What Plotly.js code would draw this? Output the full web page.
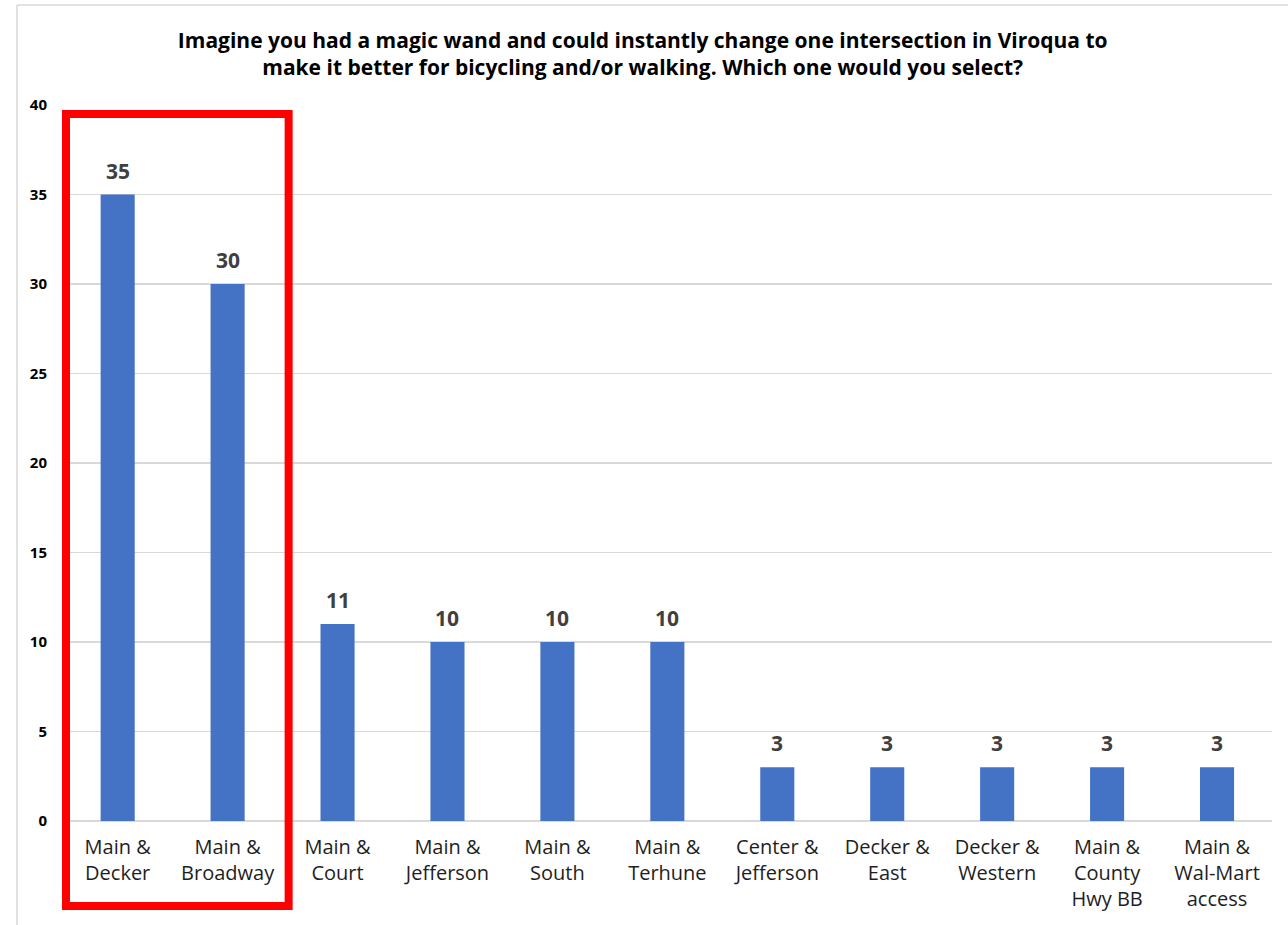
<!DOCTYPE html>
<html>
<head>
<meta charset="utf-8">
<script src="https://cdn.plot.ly/plotly-3.0.1.min.js"></script>
<style>
  html, body { margin: 0; padding: 0; background: #ffffff; }
  #chart { width: 1288px; height: 925px; }
</style>
</head>
<body>
<div id="chart"></div>
<script>
// Survey responses: preferred intersection to improve for bicycling/walking
const intersections = [
  "Main &<br>Decker", "Main &<br>Broadway", "Main &<br>Court", "Main &<br>Jefferson",
  "Main &<br>South", "Main &<br>Terhune", "Center &<br>Jefferson", "Decker &<br>East",
  "Decker &<br>Western", "Main &<br>County<br>Hwy BB", "Main &<br>Wal-Mart<br>access"
];
const responses = [35, 30, 11, 10, 10, 10, 3, 3, 3, 3, 3];
const yTicks = [0, 5, 10, 15, 20, 25, 30, 35, 40];

const titleText = "Imagine you had a magic wand and could instantly change one intersection in Viroqua to<br>" +
                  "make it better for bicycling and/or walking. Which one would you select?";

const FONT = "Open Sans, Liberation Sans, sans-serif";

const trace = {
  type: "bar",
  x: intersections,
  y: responses,
  width: 0.31,
  marker: { color: "#4472C4", line: { width: 0 } },
  hoverinfo: "x+y"
};

// value labels sitting above each bar
const valueLabels = intersections.map((cat, i) => ({
  x: cat,
  y: responses[i],
  xref: "x",
  yref: "y",
  text: String(responses[i]),
  showarrow: false,
  yanchor: "bottom",
  yshift: 8,
  font: { family: FONT, size: 21, color: "#404040", weight: 700 }
}));

const layout = {
  width: 1288,
  height: 925,
  paper_bgcolor: "#ffffff",
  plot_bgcolor: "#ffffff",
  margin: { l: 62, r: 16, t: 105, b: 104 },
  showlegend: false,
  title: {
    text: titleText,
    font: { family: FONT, size: 21, color: "#000000", weight: 700 },
    xref: "container", x: 0.499, xanchor: "center",
    yref: "container", y: 0.948, yanchor: "middle"
  },
  xaxis: {
    type: "category",
    tickfont: { family: FONT, size: 20, color: "#1e1e1e" },
    ticks: "",
    showgrid: false,
    showline: false,
    ticklabelstandoff: 12,
    fixedrange: true
  },
  yaxis: {
    range: [0, 40],
    tickvals: yTicks,
    ticktext: yTicks.map(String),
    tickfont: { family: FONT, size: 15, color: "#000000", weight: 700 },
    showgrid: true,
    gridcolor: "#d9d9d9",
    gridwidth: 1.5,
    zeroline: true,
    zerolinecolor: "#d9d9d9",
    zerolinewidth: 1.5,
    showline: false,
    ticks: "",
    ticklabelstandoff: 14,
    fixedrange: true
  },
  annotations: valueLabels,
  shapes: [
    // outer chart frame (left and top edges)
    { type: "line", xref: "paper", yref: "paper", x0: -0.0372, x1: -0.0372, y0: 1.1397, y1: -0.2, line: { color: "#d9d9d9", width: 1.5 } },
    { type: "line", xref: "paper", yref: "paper", x0: -0.0372, x1: 1.02, y0: 1.1397, y1: 1.1397, line: { color: "#d9d9d9", width: 1.5 } },
    // highlight box around the two leading intersections
    { type: "rect", xref: "x", yref: "paper", x0: -0.47, x1: 1.555, y0: -0.1187, y1: 0.9874, line: { color: "#ff0000", width: 8 }, fillcolor: "rgba(0,0,0,0)" }
  ]
};

Plotly.newPlot("chart", [trace], layout, { displayModeBar: false, staticPlot: true });
</script>
</body>
</html>
